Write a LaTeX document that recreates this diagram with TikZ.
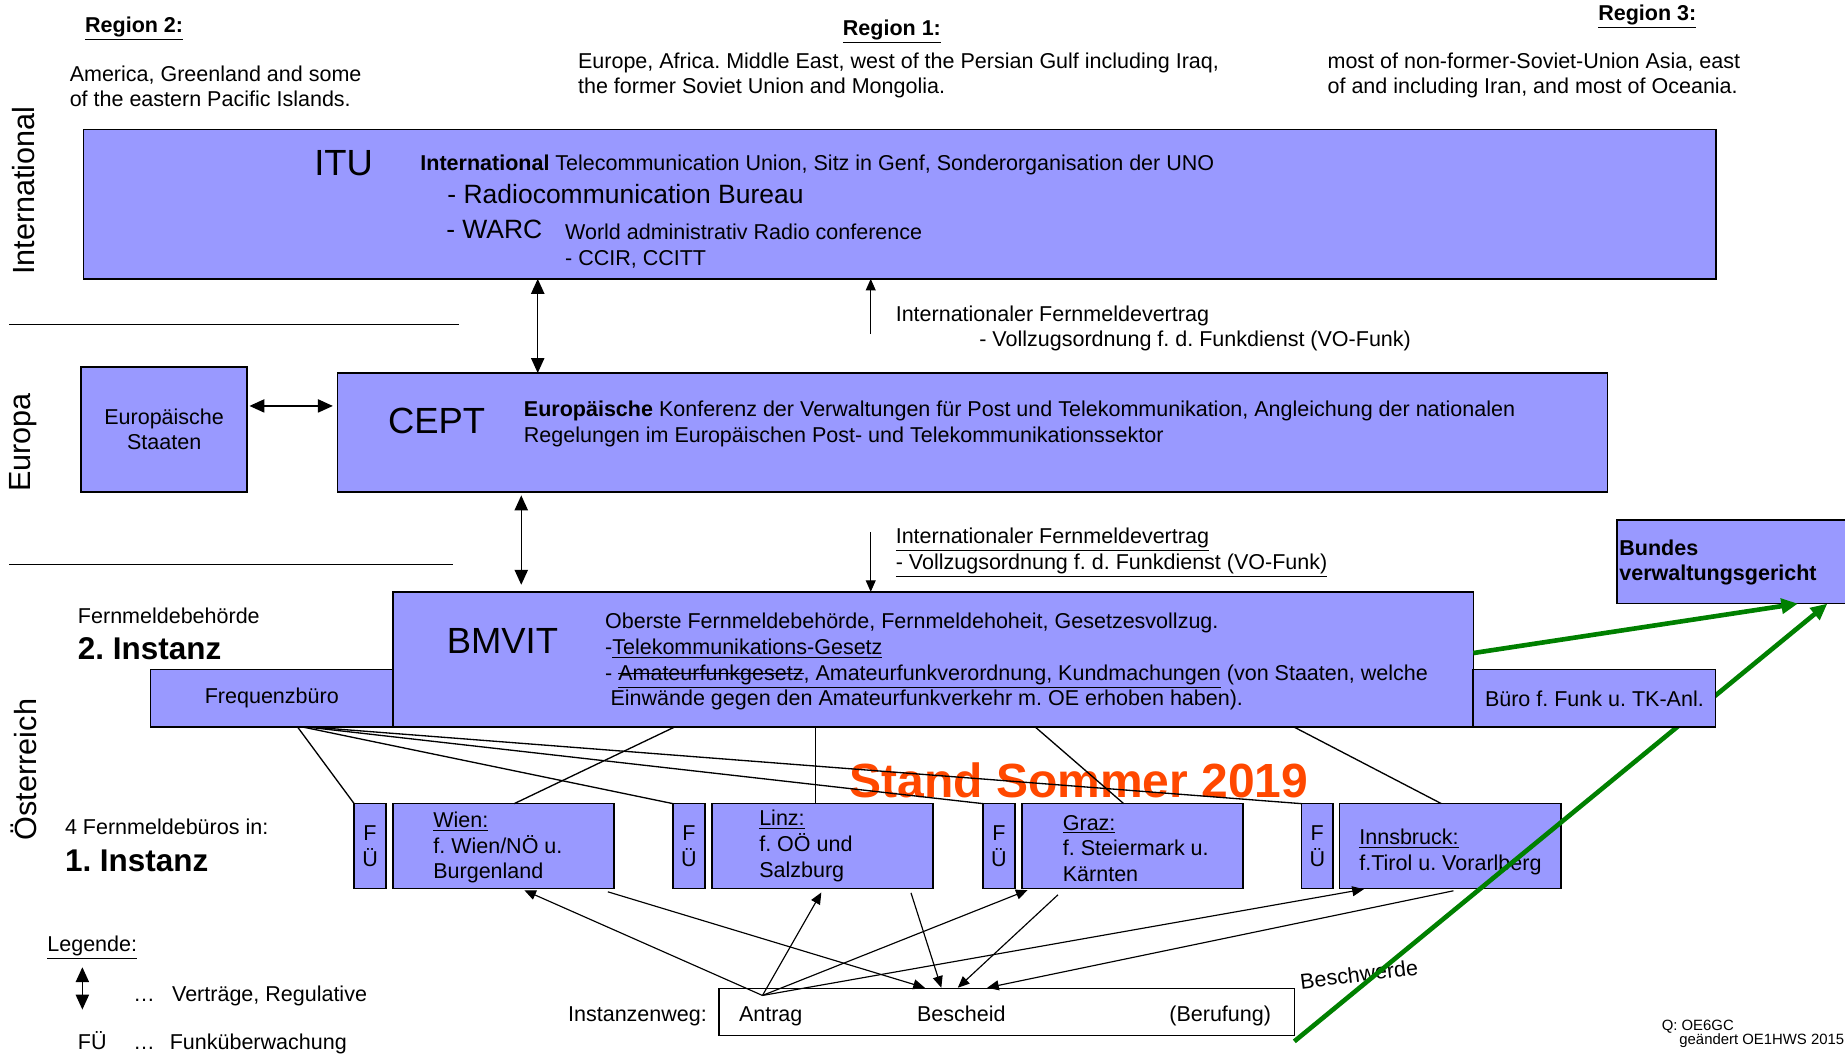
\documentclass[tikz,border=0pt]{standalone}
\usepackage{fontspec}
\setmainfont{Liberation Sans}
\usetikzlibrary{arrows.meta}
\frenchspacing

\definecolor{boxblue}{RGB}{153,153,255}
\definecolor{gruen}{RGB}{0,128,0}
\definecolor{standrot}{RGB}{255,72,0}

% unterstrichen und durchgestrichen
\newcommand\ustr[1]{\underline{#1}}
\newcommand\strk[1]{\leavevmode\setbox0\hbox{#1}\rlap{\rule[0.3em]{\wd0}{0.6pt}}\box0}

\tikzset{
	box/.style={rectangle,draw,line width=1pt,fill=boxblue,inner sep=0pt,outer sep=0pt,align=center,font=\fontsize{13}{15.5}\selectfont},
	txt/.style={inner sep=0pt,align=left,anchor=west,font=\fontsize{13}{15.5}\selectfont},
	bl/.style={txt,anchor=base west},
	head/.style={inner sep=0pt,font=\fontsize{13}{15.5}\selectfont\bfseries},
	big/.style={inner sep=0pt,anchor=base,font=\fontsize{22}{26}\selectfont},
	mid/.style={inner sep=0pt,anchor=base west,font=\fontsize{16}{19}\selectfont},
	inst/.style={inner sep=0pt,anchor=base west,font=\fontsize{19}{22}\selectfont\bfseries},
	side/.style={inner sep=0pt,rotate=90,font=\fontsize{18.5}{22}\selectfont},
	dbl/.style={{Triangle[length=9pt,width=8pt]}-{Triangle[length=9pt,width=8pt]},line width=0.8pt},
	arr/.style={-{Triangle[length=7pt,width=6pt]},line width=0.7pt},
	line/.style={line width=0.8pt},
	greenarr/.style={-{Triangle[length=10pt,width=9pt]},line width=2.8pt,gruen}
}

\begin{document}
\begin{tikzpicture}[x=0.025cm,y=-0.025cm]
	\useasboundingbox (0,0) rectangle (1568,895);

	% Regionen
	\node[head] (reg2) at (114,24) {\ustr{Region 2:}};
	\node[head] (reg1) at (758,27) {\ustr{Region 1:}};
	\node[head] (reg3) at (1400,14) {\ustr{Region 3:}};
	\node[txt] (reg2txt) at (59,73.5) {America, Greenland and some\\of the eastern Pacific Islands.};
	\node[txt] (reg1txt) at (491,64) {Europe, Africa. Middle East, west of the Persian Gulf including Iraq,\\the former Soviet Union and Mongolia.};
	\node[txt] (reg3txt) at (1128,64) {most of non-former-Soviet-Union Asia, east\\of and including Iran, and most of Oceania.};

	\node[side] (intl) at (20,162) {International};
	\node[side] (eur) at (20,376) {Europa};
	\node[side] (oe) at (20,654) {Österreich};
	\draw[line] (8,276) -- (390,276);
	\draw[line] (8,480) -- (385,480);

	% International
	\node[box,minimum width=34.675cm,minimum height=3.175cm] (ITU) at (764.5,173.5) {};
	\node[big] (itulabel) at (292,149) {ITU};
	\node[bl] (itutxt) at (357,144.5) {\textbf{International} Telecommunication Union, Sitz in Genf, Sonderorganisation der UNO};
	\node[mid] (radio) at (380,173) {- Radiocommunication Bureau};
	\node[mid] (warc) at (379,203) {- WARC};
	\node[txt] (warctxt) at (480,209) {World administrativ Radio conference\\- CCIR, CCITT};

	% Europa
	\node[box,minimum width=26.975cm,minimum height=2.525cm] (CEPT) at (826.5,367.5) {};
	\node[big] (ceptlabel) at (371,368) {CEPT};
	\node[txt] (cepttxt) at (445,360.5) {\textbf{Europäische} Konferenz der Verwaltungen für Post und Telekommunikation, Angleichung der nationalen\\Regelungen im Europäischen Post- und Telekommunikationssektor};
	\node[box,minimum width=3.525cm,minimum height=2.65cm] (staaten) at (139.5,365) {Europäische\\Staaten};

	\draw[dbl] (ITU.south -| 457,0) -- (CEPT.north -| 457,0);
	\coordinate (vertragoben) at (740,284);
	\draw[arr] (vertragoben) -- (ITU.south -| 740,0);
	\node[bl] (vertrag1) at (761,273.5) {Internationaler Fernmeldevertrag};
	\node[bl] (vofunk1) at (832,294.5) {- Vollzugsordnung f. d. Funkdienst (VO-Funk)};
	\draw[dbl,shorten <=0.05cm,shorten >=0.1cm] (staaten.east |- 0,345) -- (CEPT.west |- 0,345);

	% Oesterreich
	\node[box,minimum width=4.95cm,minimum height=1.775cm] (BVwG) at (1473,477.5) {};
	\node[txt,font=\fontsize{13}{15.5}\selectfont\bfseries] (bvwgtxt) at (1376,478) {Bundes\\verwaltungsgericht};

	\node[box,minimum width=22.95cm,minimum height=2.875cm] (BMVIT) at (793,560.5) {};
	\node[big] (bmvitlabel) at (427,555) {BMVIT};
	\node[txt] (bmvittxt) at (514,562.5) {Oberste Fernmeldebehörde, Fernmeldehoheit, Gesetzesvollzug.\\-\ustr{Telekommunikations-Gesetz}\\- \ustr{\strk{Amateurfunkgesetz}, Amateurfunkverordnung, Kundmachungen} (von Staaten, welche\\\hspace*{0.25em}Einwände gegen den Amateurfunkverkehr m. OE erhoben haben).};
	\node[box,minimum width=5.15cm,minimum height=1.225cm] (frequenz) at (231,593.5) {Frequenzbüro};

	\draw[dbl,shorten <=0.075cm,shorten >=0.15cm] (CEPT.south -| 443,0) -- (BMVIT.north -| 443,0);
	\coordinate (vertragunten) at (740,452);
	\draw[arr] (vertragunten) -- (BMVIT.north -| 740,0);
	\node[txt] (vertrag2) at (761,469.5) {\ustr{Internationaler Fernmeldevertrag}\\\ustr{- Vollzugsordnung f. d. Funkdienst (VO-Funk)}};

	\node[bl] (fmb) at (66,529.5) {Fernmeldebehörde};
	\node[inst] (inst2) at (66,560.5) {2. Instanz};
	\node[bl] (fmbueros) at (55,709.5) {4 Fernmeldebüros in:};
	\node[inst] (inst1) at (55,740.5) {1. Instanz};

	% Fernmeldebueros
	\begin{scope}[every node/.append style={minimum height=1.8cm}]
		\node[box,minimum width=0.675cm] (fue1) at (314.5,719) {F\\Ü};
		\node[box,minimum width=0.675cm] (fue2) at (585.5,719) {F\\Ü};
		\node[box,minimum width=0.675cm] (fue3) at (849,719) {F\\Ü};
		\node[box,minimum width=0.675cm] (fue4) at (1119.5,719) {F\\Ü};
		\node[box,minimum width=4.7cm] (wien) at (428,719) {};
		\node[box,minimum width=4.7cm] (linz) at (699,719) {};
		\node[box,minimum width=4.7cm] (graz) at (962.5,719) {};
		\node[box,minimum width=4.7cm] (innsbruck) at (1232.5,719) {};
	\end{scope}
	\node[txt] (wientxt) at (368,720.5) {\ustr{Wien:}\\f. Wien/NÖ u.\\Burgenland};
	\node[txt] (linztxt) at (645,719) {\ustr{Linz:}\\f. OÖ und\\Salzburg};
	\node[txt] (graztxt) at (903,721) {\ustr{Graz:}\\f. Steiermark u.\\Kärnten};
	\node[txt] (innsbrucktxt) at (1155,724) {\ustr{Innsbruck:}\\f.Tirol u. Vorarlberg};

	\node[inner sep=0pt,font=\fontsize{29}{32}\selectfont\bfseries,text=standrot] (stand) at (917,663) {Stand Sommer 2019};

	\draw[line] (frequenz.south -| 253,0) -- (fue1.north west);
	\draw[line] (frequenz.south -| 258,0) -- (fue2.north west);
	\draw[line] (frequenz.south -| 262,0) -- (fue3.north west);
	\draw[line] (frequenz.south -| 266,0) -- (fue4.north west);
	\draw[line] (BMVIT.south -| 573,0) -- (wien.north -| 437,0);
	\draw[line] (BMVIT.south -| 693,0) -- (linz.north -| 693,0);
	\draw[line] (BMVIT.south -| 880,0) -- (graz.north -| 955,0);
	\draw[line] (BMVIT.south -| 1100,0) -- (innsbruck.north -| 1225,0);

	% Instanzenweg
	\node[rectangle,draw,line width=0.8pt,fill=white,minimum width=12.225cm,minimum height=1cm,inner sep=0pt] (weg) at (855.5,860) {};
	\node[txt,anchor=base east] (wegtxt) at (601,868.5) {Instanzenweg:};
	\node[txt,anchor=base] (antrag) at (655,868.5) {Antrag};
	\node[txt,anchor=base] (bescheid) at (817,868.5) {Bescheid};
	\node[txt,anchor=base] (berufung) at (1037,868.5) {(Berufung)};
	\coordinate (antragtop) at (648,846);

	\draw[arr,shorten >=0.1cm] (antragtop) -- (wien.south -| 442,0);
	\draw[arr,shorten >=0.1cm] (antragtop) -- (linz.south -| 700,0);
	\draw[arr,shorten >=0.1cm] (antragtop) -- (graz.south -| 877,0);
	\draw[arr,shorten >=0.1cm] (antragtop) -- (innsbruck.south -| 1163,0);
	\draw[arr,shorten <=0.25cm] (wien.south -| 507,0) -- (weg.north -| 786,0);
	\draw[arr,shorten <=0.1cm] (linz.south -| 773,0) -- (weg.north -| 800,0);
	\draw[arr,shorten <=0.2cm] (graz.south -| 905,0) -- (weg.north -| 814,0);
	\draw[arr,shorten <=0.25cm] (innsbruck.south -| 1245,0) -- (weg.north -| 839,0);

	% Beschwerde
	\node[txt,anchor=center,rotate=7] (beschwerde) at (1155,828) {Beschwerde};
	\coordinate (beschwerdeunten) at (1100,885);
	\draw[greenarr] (BMVIT.east |- 0,555) -- (BVwG.south -| 1528,0);
	\draw[greenarr] (beschwerdeunten) -- (BVwG.south -| 1553,0);
	\node[box,minimum width=5.15cm,minimum height=1.225cm] (buero) at (1355,593.5) {Büro f. Funk u. TK-Anl.};

	% Legende
	\node[bl] (legende) at (40,808.5) {\ustr{Legende:}};
	\coordinate (legoben) at (70,822);
	\coordinate (legunten) at (70,858);
	\draw[dbl] (legoben) -- (legunten);
	\node[bl] (legdots1) at (113,851.5) {…};
	\node[bl] (legvertr) at (146,851.5) {Verträge, Regulative};
	\node[bl] (legfue) at (66,891.5) {FÜ};
	\node[bl] (legdots2) at (113,891.5) {…};
	\node[bl] (legfunk) at (144,891.5) {Funküberwachung};

	\node[inner sep=0pt,anchor=base west,font=\fontsize{9}{10}\selectfont] (quelle) at (1412,876) {Q: OE6GC};
	\node[inner sep=0pt,anchor=base west,font=\fontsize{9}{10}\selectfont] (quelle2) at (1427,888) {geändert OE1HWS 2015};
\end{tikzpicture}
\end{document}
